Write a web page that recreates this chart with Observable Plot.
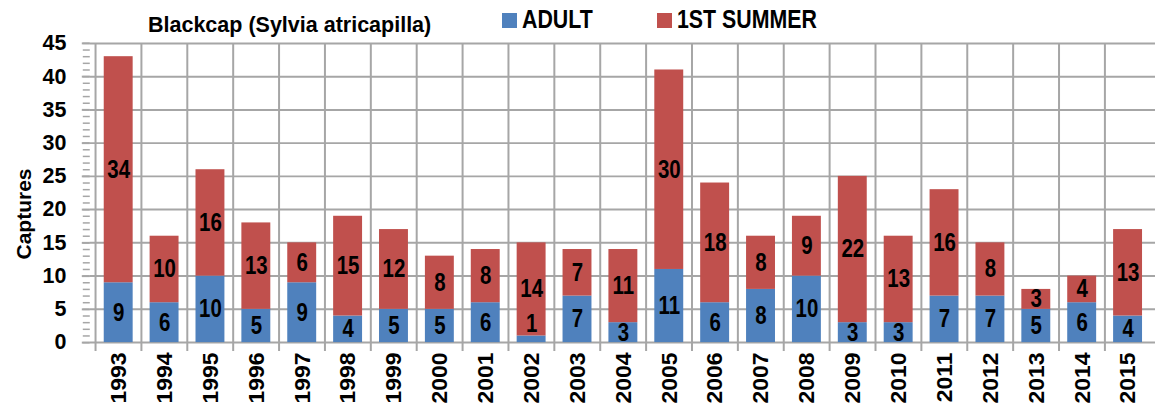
<!DOCTYPE html>
<html><head><meta charset="utf-8">
<script src="https://cdn.jsdelivr.net/npm/d3@7"></script>
<script src="https://cdn.jsdelivr.net/npm/@observablehq/plot@0.6"></script>
<style>
html,body{margin:0;padding:0;background:#fff;overflow:hidden;width:1155px;height:403px}
#wrap{position:relative;width:1155px;height:403px;overflow:hidden}
.t{position:absolute;font-weight:bold;color:#000;white-space:nowrap;line-height:1;z-index:2;font-family:"Liberation Sans",Arial,sans-serif}
.narrow{transform:scaleX(0.82);transform-origin:0 0}
.sw{position:absolute;width:15px;height:15px;z-index:2}
</style></head>
<body><div id="wrap"></div>
<script>
const years = ["1993","1994","1995","1996","1997","1998","1999","2000","2001","2002","2003","2004","2005","2006","2007","2008","2009","2010","2011","2012","2013","2014","2015"];
const adult = [9,6,10,5,9,4,5,5,6,1,7,3,11,6,8,10,3,3,7,7,5,6,4];
const firstSummer = [34,10,16,13,6,15,12,8,8,14,7,11,30,18,8,9,22,13,16,8,3,4,13];
const seriesNames = ["ADULT","1ST SUMMER"];
const seriesColors = ["#4F81BD","#C0504D"];
const yTicks = [0,5,10,15,20,25,30,35,40,45];
const title = "Blackcap (Sylvia atricapilla)";
const yLabel = "Captures";

const rows = [];
const labels = [];
years.forEach((yr,i)=>{
  const a = adult[i], f = firstSummer[i];
  rows.push({year:yr, series:seriesNames[0], value:a});
  rows.push({year:yr, series:seriesNames[1], value:f});
  labels.push({year:yr, value:a, mid:a/2});
  labels.push({year:yr, value:f, mid:a+f/2});
});

const W = 1158, H = 403, ML = 90, MR = 0, MT = 43, MB = 60;
const step = (W - ML - MR) / years.length;
const grid = "#a6a6a6";
const labelFont = '"Liberation Sans", Arial, sans-serif';

const chart = Plot.plot({
  width: W, height: H,
  marginLeft: ML, marginRight: MR, marginTop: MT, marginBottom: MB,
  style: {fontFamily: '"Liberation Sans", Arial, sans-serif', background: "white", overflow: "visible"},
  x: {domain: years, paddingInner: 0.38, paddingOuter: 0.19, label: null},
  y: {domain: [0,45], label: null},
  color: {domain: seriesNames, range: seriesColors},
  marks: [
    Plot.ruleY(yTicks, {stroke: grid, strokeWidth: 2}),
    Plot.ruleX(years, {x: d=>d, dx: -step/2, y1: -1.35, y2: 45, stroke: grid, strokeWidth: 2}),
    Plot.barY(rows, {x: "year", y: "value", fill: "series"}),
    Plot.text(labels.filter(d=>d.value>1), {x: "year", y: "mid", text: d=>String(d.value), fontSize: 25, fontWeight: "bold", fill: "#000", fontFamily: labelFont}),
    Plot.text(labels.filter(d=>d.value===1), {x: "year", y: "mid", dy: -15, text: d=>String(d.value), fontSize: 25, fontWeight: "bold", fill: "#000", fontFamily: labelFont}),
    Plot.axisY(d3.range(0,46,1), {tickSize: 7, tickFormat: ()=>"", stroke: grid, strokeWidth: 1.5, label: null}),
    Plot.axisY(yTicks, {tickSize: 8, tickPadding: 16, fontSize: 21.5, fontWeight: "bold", fill: "#000", stroke: grid, strokeWidth: 2, label: null}),
    Plot.axisX({tickSize: 0, tickPadding: 10, tickRotate: -90, fontSize: 23, fontWeight: "bold", fill: "#000", label: null})
  ]
});

// condense bar value labels (Arial Narrow look)
d3.select(chart).selectAll('g[aria-label="text"] text').each(function(){
  const t = d3.select(this);
  let tr = t.attr("transform");
  if (tr) {
    t.attr("transform", tr + " scale(0.82,1)");
  } else {
    const x = +t.attr("x") || 0, y = +t.attr("y") || 0;
    t.attr("x", null).attr("y", null).attr("transform", `translate(${x},${y}) scale(0.82,1)`);
  }
});

const wrap = document.getElementById("wrap");
wrap.appendChild(chart);
function addText(txt, cls, left, top, size, extra){
  const d = document.createElement("div");
  d.className = "t " + cls;
  d.textContent = txt;
  d.style.left = left + "px"; d.style.top = top + "px"; d.style.fontSize = size + "px";
  if (extra) Object.assign(d.style, extra);
  wrap.appendChild(d);
  return d;
}
addText(title, "", 148, 15, 21.5);
const legX = [502, 657];
seriesNames.forEach((s,i)=>{
  const sw = document.createElement("div");
  sw.className = "sw"; sw.style.left = legX[i]+"px"; sw.style.top = "13px"; sw.style.background = seriesColors[i];
  wrap.appendChild(sw);
  addText(s, "narrow", legX[i]+20, 6, 26);
});
addText(yLabel, "", 23, 214, 21, {transform: "translate(-50%,-50%) rotate(-90deg)"});
</script></body></html>
